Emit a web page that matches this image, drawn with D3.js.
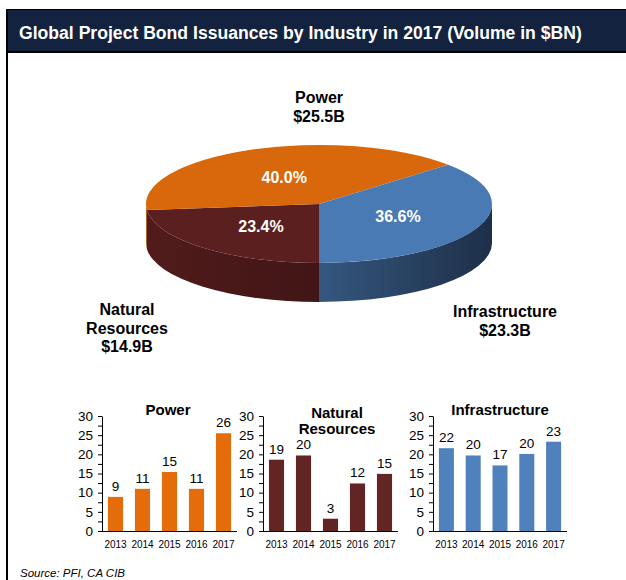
<!DOCTYPE html>
<html><head><meta charset="utf-8">
<script src="https://cdn.jsdelivr.net/npm/d3@7"></script>
<style>html,body{margin:0;padding:0;background:#fff}svg{display:block}text{font-family:Arial,"Liberation Sans",sans-serif}</style>
</head><body>
<svg id="c" width="626" height="580"></svg>
<script>
const title = "Global Project Bond Issuances by Industry in 2017 (Volume in $BN)";
const pieSegments = ["Natural Resources", "Power", "Infrastructure"];
const pieValues = [14.9, 25.5, 23.3];
const pieLabelLines = [["Natural", "Resources", "$14.9B"], ["Power", "$25.5B"], ["Infrastructure", "$23.3B"]];
const years = ["2013", "2014", "2015", "2016", "2017"];
const powerValues = [8.9, 11.0, 15.4, 11.0, 25.5];
const naturalValues = [18.6, 19.7, 3.2, 12.4, 14.9];
const infraValues = [21.6, 19.7, 17.1, 20.1, 23.3];
const yTicks = [0, 5, 10, 15, 20, 25, 30];
const sourceText = "Source: PFI, CA CIB";

// styles
const pieTopColors = ["#5c1f1f", "#d9670b", "#4a7ab4"];
const pieSideColors = [["#511b1b", "#411516"], ["#a9520a", "#a9520a"], ["#35577f", "#1e2f48"]];
const barColors = ["#e46c0a", "#632523", "#4f81bd"];

const svg = d3.select("#c");
const defs = svg.append("defs");

// frame
svg.append("rect").attr("x", 6).attr("y", 9).attr("width", 700).attr("height", 700).attr("fill", "#000");
svg.append("rect").attr("x", 8).attr("y", 53).attr("width", 700).attr("height", 700).attr("fill", "#fff");
svg.append("rect").attr("x", 8).attr("y", 10).attr("width", 700).attr("height", 41).attr("fill", "#13233f");
svg.append("text").attr("x", 19).attr("y", 38.5).attr("fill", "#fff")
  .attr("font-size", 17.6).attr("font-weight", "bold").text(title);

// ---------- 3D pie ----------
const cx = 319, cy = 204, rx = 173, ry = 59, depth = 39;
const total = d3.sum(pieValues);
const arcs = d3.pie().sort(null).startAngle(Math.PI).endAngle(3 * Math.PI)(pieValues);
const P = (t, dy = 0) => [cx + rx * Math.cos(t), cy + ry * Math.sin(t) + dy];

const sideG = svg.append("g"), topG = svg.append("g"), lblG = svg.append("g");
arcs.forEach((a, i) => {
  const s = a.startAngle - Math.PI / 2, e = a.endAngle - Math.PI / 2;
  [[0, Math.PI], [2 * Math.PI, 3 * Math.PI]].forEach(([v0, v1], k) => {
    const lo = Math.max(s, v0), hi = Math.min(e, v1);
    if (hi - lo > 1e-4) {
      const gid = "sg" + i + "_" + k;
      const p0 = P(lo), p1 = P(hi);
      const g = defs.append("linearGradient").attr("id", gid).attr("gradientUnits", "userSpaceOnUse")
        .attr("x1", Math.min(p0[0], p1[0])).attr("x2", Math.max(p0[0], p1[0])).attr("y1", 0).attr("y2", 0);
      g.append("stop").attr("offset", 0).attr("stop-color", pieSideColors[i][0]);
      g.append("stop").attr("offset", 1).attr("stop-color", pieSideColors[i][1]);
      const q0 = P(lo, depth), q1 = P(hi, depth);
      sideG.append("path")
        .attr("d", `M${p0}A${rx},${ry} 0 0 1 ${p1}L${q1}A${rx},${ry} 0 0 0 ${q0}Z`)
        .attr("fill", `url(#${gid})`);
    }
  });
  const p0 = P(s), p1 = P(e);
  const large = (e - s) > Math.PI ? 1 : 0;
  topG.append("path")
    .attr("d", `M${cx},${cy}L${p0}A${rx},${ry} 0 ${large} 1 ${p1}Z`)
    .attr("fill", pieTopColors[i]);
  const m = (s + e) / 2;
  lblG.append("text")
    .attr("x", cx + rx * 0.5 * Math.cos(m)).attr("y", cy + ry * 0.5 * Math.sin(m) + 6)
    .attr("text-anchor", "middle").attr("fill", "#fff").attr("font-size", 16).attr("font-weight", "bold")
    .text(d3.format(".1%")(a.value / total));
});

// outer labels
const outerPos = [[127, 315], [319, 103], [505, 317]];
pieLabelLines.forEach((lines, i) => {
  const t = svg.append("text").attr("text-anchor", "middle").attr("font-size", 16)
    .attr("font-weight", "bold").attr("fill", "#000");
  lines.forEach((l, j) => t.append("tspan").attr("x", outerPos[i][0]).attr("y", outerPos[i][1] + j * 18.5).text(l));
});

// ---------- bar charts ----------
const charts = [
  { name: ["Power"], values: powerValues, range: [102, 237], tx: 168, ty: 415 },
  { name: ["Natural", "Resources"], values: naturalValues, range: [263, 398], tx: 337, ty: 418 },
  { name: ["Infrastructure"], values: infraValues, range: [433, 567], tx: 500, ty: 415 }
];
const y = d3.scaleLinear().domain([0, 30]).range([531, 416]);
charts.forEach((c, ci) => {
  const g = svg.append("g");
  const x = d3.scaleBand().domain(years).range(c.range).paddingInner(0.44).paddingOuter(0.22);
  g.selectAll("rect").data(c.values).enter().append("rect")
    .attr("x", (d, i) => x(years[i])).attr("width", x.bandwidth())
    .attr("y", d => y(d)).attr("height", d => y(0) - y(d))
    .attr("fill", barColors[ci]);
  g.selectAll(".v").data(c.values).enter().append("text")
    .attr("x", (d, i) => x(years[i]) + x.bandwidth() / 2).attr("y", d => y(d) - 6)
    .attr("text-anchor", "middle").attr("font-size", 13.5).attr("fill", "#000")
    .text(d => Math.round(d));
  const ax = g.append("g").attr("transform", `translate(${c.range[0]},0)`)
    .call(d3.axisLeft(y).tickValues(d3.range(0, 30.01, 2.5)).tickSizeInner(4).tickSizeOuter(0).tickPadding(5)
      .tickFormat(d => yTicks.includes(d) ? d : ""));
  ax.selectAll("text").attr("font-size", 13.5).attr("fill", "#000").attr("font-family", "Arial, 'Liberation Sans', sans-serif");
  ax.selectAll("line,path").attr("stroke", "#000");
  g.append("line").attr("x1", c.range[0]).attr("x2", c.range[1]).attr("y1", y(0) + 0.5).attr("y2", y(0) + 0.5)
    .attr("stroke", "#000");
  g.selectAll(".xl").data(years).enter().append("text")
    .attr("x", d => x(d) + x.bandwidth() / 2).attr("y", 548)
    .attr("text-anchor", "middle").attr("font-size", 10).attr("fill", "#000").text(d => d);
  const t = g.append("text").attr("text-anchor", "middle").attr("font-size", 15).attr("font-weight", "bold");
  c.name.forEach((n, j) => t.append("tspan").attr("x", c.tx).attr("y", c.ty + j * 16).text(n));
});

svg.append("text").attr("x", 20).attr("y", 577).attr("font-size", 11.5).attr("font-style", "italic")
  .attr("fill", "#000").text(sourceText);
</script>
</body></html>
